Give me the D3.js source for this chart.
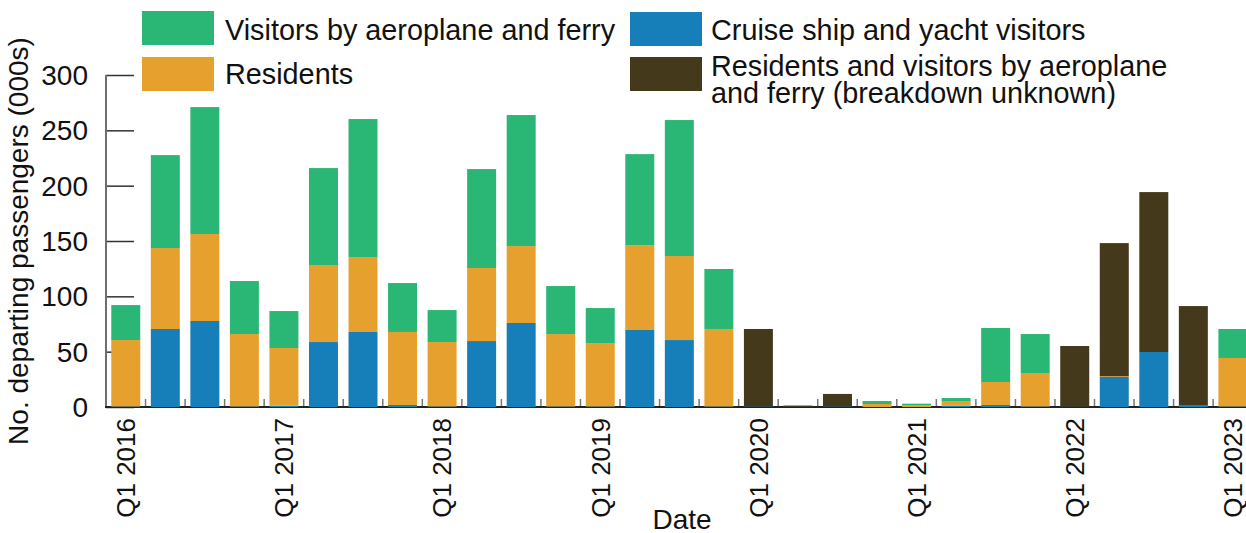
<!DOCTYPE html>
<html>
<head>
<meta charset="utf-8">
<script src="https://cdn.jsdelivr.net/npm/d3@7"></script>
<style>
  html, body { margin: 0; padding: 0; background: #fff; }
  svg { display: block; }
  text { font-family: "Liberation Sans", Arial, sans-serif; fill: #111; }
</style>
</head>
<body>
<svg id="chart" width="1246" height="533"></svg>
<script>
// ---- data ----
const quarters = [
  "Q1 2016","Q2 2016","Q3 2016","Q4 2016",
  "Q1 2017","Q2 2017","Q3 2017","Q4 2017",
  "Q1 2018","Q2 2018","Q3 2018","Q4 2018",
  "Q1 2019","Q2 2019","Q3 2019","Q4 2019",
  "Q1 2020","Q2 2020","Q3 2020","Q4 2020",
  "Q1 2021","Q2 2021","Q3 2021","Q4 2021",
  "Q1 2022","Q2 2022","Q3 2022","Q4 2022",
  "Q1 2023"
];
const cruise = [
  0.5, 70.5, 77.7, 0.5,
  1.2, 58.7, 67.8, 1.8,
  0.5, 59.6, 75.9, 0.5,
  0.5, 69.6, 60.5, 0.5,
  0.5, 0.3, 0.5, 0,
  0, 1.2, 1.8, 0.5,
  0.3, 27.1, 49.7, 1.2,
  0.5
];
const residents = [
  60.0, 73.1, 78.6, 65.4,
  52.1, 69.6, 67.7, 66.0,
  58.2, 66.0, 69.5, 65.4,
  57.3, 76.7, 75.9, 70.0,
  0, 0, 0, 2.7,
  1.8, 4.2, 20.8, 30.2,
  0, 0.7, 0, 0,
  43.8
];
const visitors = [
  31.6, 84.0, 114.7, 47.9,
  33.4, 87.6, 124.7, 44.2,
  28.9, 89.4, 118.4, 43.4,
  31.6, 82.2, 122.9, 54.2,
  0, 0, 0, 2.7,
  1.2, 2.7, 48.8, 35.2,
  0, 0, 0, 0,
  26.2
];
const unknown = [
  0, 0, 0, 0,
  0, 0, 0, 0,
  0, 0, 0, 0,
  0, 0, 0, 0,
  70.0, 1.0, 11.3, 0,
  0, 0, 0, 0,
  54.8, 120.3, 144.5, 90.0,
  0
];
const yTicks = [0, 50, 100, 150, 200, 250, 300];
const xTickLabels = ["Q1 2016","Q1 2017","Q1 2018","Q1 2019","Q1 2020","Q1 2021","Q1 2022","Q1 2023"];

const seriesKeys = ["cruise", "residents", "visitors", "unknown"];
const seriesNames = {
  visitors: "Visitors by aeroplane and ferry",
  residents: "Residents",
  cruise: "Cruise ship and yacht visitors",
  unknown: ["Residents and visitors by aeroplane", "and ferry (breakdown unknown)"]
};
const colors = {
  cruise: "#167eb8",
  residents: "#e6a02e",
  visitors: "#2ab674",
  unknown: "#44391b"
};

// ---- build table ----
const table = quarters.map((q, i) => ({
  q, cruise: cruise[i], residents: residents[i], visitors: visitors[i], unknown: unknown[i]
}));
const stacked = d3.stack().keys(seriesKeys)(table);

// ---- layout ----
const svg = d3.select("#chart");
const x0 = 106, x1 = 106 + 29 * 39.54;
const yBottom = 407, yTop = 75;

const x = d3.scaleBand()
  .domain(quarters)
  .range([x0, x1])
  .paddingInner(0.267)
  .paddingOuter(0.1335);

const y = d3.scaleLinear().domain([0, 300]).range([yBottom, yTop]);

// y axis (ticks point inward)
const yAxis = svg.append("g").attr("transform", `translate(${x0},0)`)
  .call(d3.axisRight(y).tickValues(yTicks).tickSize(28).tickFormat(""));
yAxis.select(".domain").remove();
yAxis.selectAll(".tick line").attr("stroke", "#333").attr("stroke-width", 1.5);

svg.append("line")
  .attr("x1", x0).attr("x2", x0).attr("y1", yTop).attr("y2", yBottom)
  .attr("stroke", "#6e6e6e").attr("stroke-width", 2);

svg.append("g").selectAll("text").data(yTicks).join("text")
  .attr("x", 88).attr("y", d => y(d)).attr("dy", "0.36em")
  .attr("text-anchor", "end").attr("font-size", 28)
  .text(d => d);

// x-axis boundary ticks
const step = x.step();
const boundaries = d3.range(quarters.length + 1).map(i => x0 + i * step);
svg.append("g").selectAll("line").data(boundaries).join("line")
  .attr("x1", d => d).attr("x2", d => d)
  .attr("y1", yBottom - 8).attr("y2", yBottom)
  .attr("stroke", "#777").attr("stroke-width", 1.5);

// bottom axis line
svg.append("line")
  .attr("x1", x0 - 1).attr("x2", 1246).attr("y1", yBottom).attr("y2", yBottom)
  .attr("stroke", "#222").attr("stroke-width", 2);

// bars
svg.append("g").selectAll("g").data(stacked).join("g")
  .attr("fill", d => colors[d.key])
  .selectAll("rect").data(d => d).join("rect")
  .attr("x", d => x(d.data.q))
  .attr("width", x.bandwidth())
  .attr("y", d => y(d[1]))
  .attr("height", d => Math.max(0, y(d[0]) - y(d[1])));

// x tick labels (rotated)
svg.append("g").selectAll("text").data(xTickLabels).join("text")
  .attr("transform", d => `translate(${x(d) + x.bandwidth() / 2},418) rotate(-90)`)
  .attr("dy", "0.36em")
  .attr("text-anchor", "end")
  .attr("font-size", 26)
  .text(d => d);

// axis titles
svg.append("text")
  .attr("transform", `translate(28,241) rotate(-90)`)
  .attr("text-anchor", "middle").attr("font-size", 28)
  .text("No. departing passengers (000s)");

svg.append("text")
  .attr("x", 682).attr("y", 529)
  .attr("text-anchor", "middle").attr("font-size", 28)
  .text("Date");

// legend
const legendItems = [
  { key: "visitors", sx: 142, sy: 11, tx: 225, ty: 40 },
  { key: "residents", sx: 142, sy: 57, tx: 225, ty: 84 },
  { key: "cruise", sx: 630, sy: 12, tx: 711, ty: 40 },
  { key: "unknown", sx: 630, sy: 57, tx: 711, ty: 76 }
];
const lg = svg.append("g");
legendItems.forEach(it => {
  lg.append("rect").attr("x", it.sx).attr("y", it.sy).attr("width", 72).attr("height", 34)
    .attr("fill", colors[it.key]);
  const name = seriesNames[it.key];
  const lines = Array.isArray(name) ? name : [name];
  const t = lg.append("text").attr("x", it.tx).attr("y", it.ty).attr("font-size", 28.8);
  lines.forEach((ln, k) => {
    t.append("tspan").attr("x", it.tx).attr("dy", k === 0 ? 0 : 27).text(ln);
  });
});
</script>
</body>
</html>
